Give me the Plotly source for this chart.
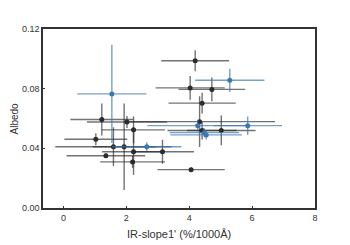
import plotly.graph_objects as go

# Black (grey) series
black_x = [4.19, 4.03, 4.72, 4.41, 4.33, 1.22, 2.02, 2.23, 1.03, 1.59, 1.93, 2.23, 3.15, 2.20, 1.35, 4.06, 4.41, 5.02]
black_y = [0.0987, 0.0805, 0.0795, 0.0703, 0.0579, 0.0593, 0.0577, 0.0524, 0.0461, 0.0411, 0.0411, 0.0377, 0.0377, 0.0309, 0.0350, 0.0257, 0.0520, 0.0520]
black_xerr = [1.08, 1.10, 1.06, 1.07, 2.40, 1.00, 1.27, 1.00, 1.00, 1.85, 1.00, 1.00, 1.00, 1.03, 1.25, 1.07, 1.10, 1.09]
black_yerr = [0.007, 0.008, 0.008, 0.007, 0.017, 0.0107, 0.004, 0.009, 0.004, 0.013, 0.029, 0.0155, 0.008, 0.004, 0.0015, 0.0015, 0.006, 0.010]

# Blue series
blue_x = [1.54, 5.29, 2.65, 4.27, 5.86, 4.54, 4.48]
blue_y = [0.0765, 0.0856, 0.0411, 0.0552, 0.0552, 0.0490, 0.0505]
blue_xerr = [1.10, 1.10, 1.10, 1.60, 1.09, 1.14, 1.10]
blue_yerr = [0.033, 0.0078, 0.003, 0.004, 0.0062, 0.003, 0.003]

x_ticks = [0, 2, 4, 6, 8]
y_ticks = [0.00, 0.04, 0.08, 0.12]
x_title = "IR-slope1' (%/1000Å)"
y_title = "Albedo"

fig = go.Figure()
fig.add_trace(go.Scatter(
    x=black_x, y=black_y, mode="markers",
    marker=dict(color="#2b2b2b", size=5, symbol="circle"),
    error_x=dict(type="data", array=black_xerr, color="rgba(40,40,40,0.65)", thickness=1.4, width=0),
    error_y=dict(type="data", array=black_yerr, color="rgba(40,40,40,0.65)", thickness=1.4, width=0),
    showlegend=False,
))
fig.add_trace(go.Scatter(
    x=blue_x, y=blue_y, mode="markers",
    marker=dict(color="#3d77b0", size=5, symbol="circle"),
    error_x=dict(type="data", array=blue_xerr, color="rgba(61,119,176,0.7)", thickness=1.4, width=0),
    error_y=dict(type="data", array=blue_yerr, color="rgba(61,119,176,0.7)", thickness=1.4, width=0),
    showlegend=False,
))

axis_common = dict(
    showgrid=False, zeroline=False, showline=True, linecolor="#333333", linewidth=1.5,
    mirror=True, ticks="inside", ticklen=2, tickcolor="#333333", automargin=False,
    tickfont=dict(family="Liberation Sans, Arial", size=9, color="#333333"),
)
title_font = dict(family="Liberation Sans, Arial", size=11, color="#333333")
fig.update_layout(
    width=342, height=237,
    margin=dict(l=35, r=35, t=21, b=37, autoexpand=False),
    paper_bgcolor="white", plot_bgcolor="white",
    xaxis=dict(range=[-0.65, 8.0], tickvals=x_ticks, ticktext=[str(v) for v in x_ticks], **axis_common),
    yaxis=dict(range=[0, 0.12], tickvals=y_ticks, ticktext=["%.2f" % v for v in y_ticks], **axis_common),
    annotations=[
        dict(text=x_title, xref="paper", yref="paper", x=0.5, y=0, xanchor="center", yanchor="middle",
             yshift=-26, showarrow=False, font=title_font),
        dict(text=y_title, xref="paper", yref="paper", x=0, y=0.5, xanchor="center", yanchor="middle",
             xshift=-29, textangle=-90, showarrow=False, font=dict(title_font, size=10)),
    ],
)
fig.write_html("out.html")
